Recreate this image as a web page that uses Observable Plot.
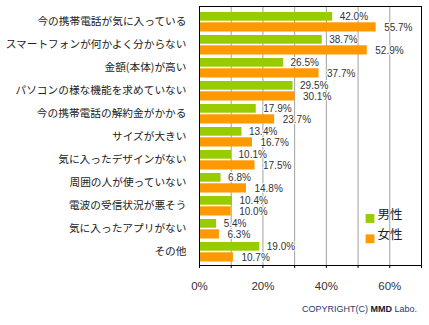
<!DOCTYPE html>
<html><head><meta charset="utf-8">
<script src="https://cdn.jsdelivr.net/npm/d3@7"></script>
<script src="https://cdn.jsdelivr.net/npm/@observablehq/plot@0.6"></script>
<style>
body{margin:0;background:#fff;}
#chart svg{display:block;}
</style>
</head><body><div id="chart"></div>
<script>
const categories = ["今の携帯電話が気に入っている","スマートフォンが何かよく分からない","金額(本体)が高い","パソコンの様な機能を求めていない","今の携帯電話の解約金がかかる","サイズが大きい","気に入ったデザインがない","周囲の人が使っていない","電波の受信状況が悪そう","気に入ったアプリがない","その他"];
const men = [42.0,38.7,26.5,29.5,17.9,13.4,10.1,6.8,10.4,5.4,19.0];
const women = [55.7,52.9,37.7,30.1,23.7,16.7,17.5,14.8,10.0,6.3,10.7];
const seriesNames = ["男性","女性"];
const xTicks = [0,20,40,60];
const gridTicks = [0,10,20,30,40,50,60,70];

const menData = categories.map((c,i)=>({cat:c, v:men[i]}));
const womenData = categories.map((c,i)=>({cat:c, v:women[i]}));
const GREEN = "#99cc00", ORANGE = "#ff9900";
const labelFont = "'Liberation Sans', Arial, sans-serif";

const chart = Plot.plot({
  width: 429, height: 325,
  marginLeft: 199, marginRight: 8, marginTop: 6, marginBottom: 60,
  style: {background:"#fff", fontFamily:"'Noto Sans CJK JP', sans-serif"},
  x: {domain:[0,70], label: null},
  y: {domain: categories, padding: 0, label: null},
  marks: [
    Plot.ruleX(gridTicks, {stroke:"#a0a0a0", strokeWidth:1}),
    Plot.barX(menData, {x:"v", y:"cat", fill:GREEN, insetTop:3, insetBottom:11.3}),
    Plot.barX(womenData, {x:"v", y:"cat", fill:ORANGE, insetTop:13.3, insetBottom:0.5}),
    Plot.text(menData, {x:"v", y:"cat", text:d=>d.v.toFixed(1)+"%", dx:7, dy:-4.5, textAnchor:"start", fill:"#333", fontSize:10, fontFamily:labelFont, stroke:"#fff", strokeWidth:2}),
    Plot.text(womenData, {x:"v", y:"cat", text:d=>d.v.toFixed(1)+"%", dx:8, dy:6.5, textAnchor:"start", fill:"#333", fontSize:10, fontFamily:labelFont, stroke:"#fff", strokeWidth:2}),
    Plot.axisX(gridTicks, {tickSize:3, stroke:"#000", text:null, label:null}),
    Plot.axisX(xTicks, {tickSize:0, tickPadding:16, tickFormat:d=>d+"%", fontSize:11.5, fontFamily:labelFont, fill:"#333", label:null}),
    Plot.axisY({tickSize:0, tickPadding:13, dy:1, fontSize:10.7, fill:"#222", label:null}),
    Plot.frame({stroke:"#000", strokeWidth:1}),
    Plot.dot([seriesNames[0]], {frameAnchor:"bottom-right", dx:-51.5, dy:-47, symbol:"square", r:5, fill:GREEN, stroke:null}),
    Plot.dot([seriesNames[1]], {frameAnchor:"bottom-right", dx:-51.5, dy:-26.7, symbol:"square", r:5, fill:ORANGE, stroke:null}),
    Plot.text([seriesNames[0]], {text:d=>d, frameAnchor:"bottom-right", dx:-44, dy:-47, textAnchor:"start", fontSize:12.5, fill:"#222"}),
    Plot.text([seriesNames[1]], {text:d=>d, frameAnchor:"bottom-right", dx:-44, dy:-26.7, textAnchor:"start", fontSize:12.5, fill:"#222"})
  ]
});
document.getElementById("chart").appendChild(chart);

// copyright line
const svg = d3.select(chart.tagName === "svg" ? chart : chart.querySelector("svg"));
const t = svg.append("text").attr("x", 417).attr("y", 312).attr("text-anchor","end")
  .attr("font-family", labelFont).attr("font-size", 9).attr("fill","#1f3a6e");
t.append("tspan").text("COPYRIGHT(C) ");
t.append("tspan").attr("font-weight","bold").attr("fill","#111a33").text("MMD");
t.append("tspan").text(" Labo.");
</script>
</body></html>
